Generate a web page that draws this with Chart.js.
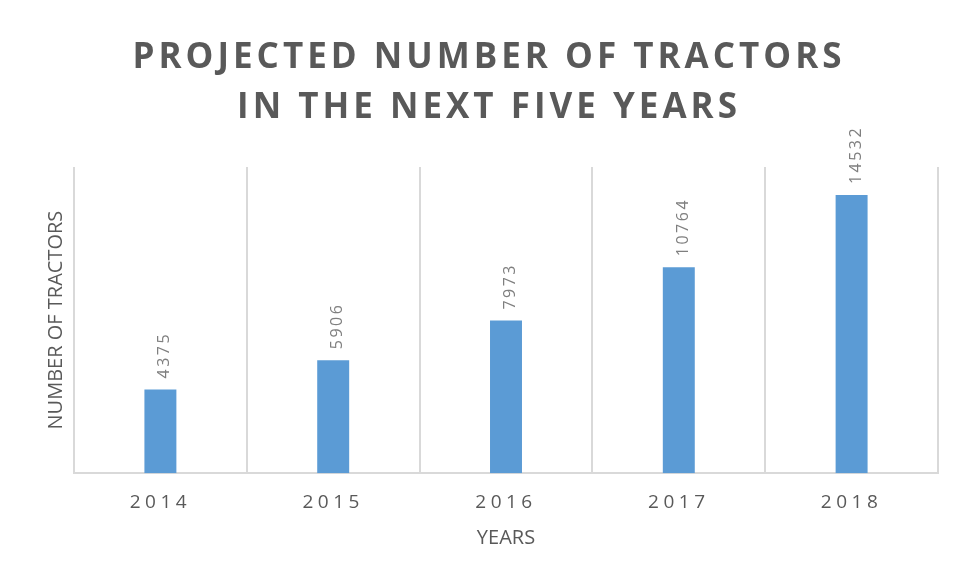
<!DOCTYPE html>
<html>
<head>
<meta charset="utf-8">
<script src="https://cdn.jsdelivr.net/npm/chart.js@4"></script>
<style>
  html, body { margin: 0; padding: 0; background: #fff; }
  #wrap { width: 955px; height: 577px; }
</style>
</head>
<body>
<div id="wrap"><canvas id="tractor-chart"></canvas></div>
<script>
const years = ['2014', '2015', '2016', '2017', '2018'];
const tractors = [4375, 5906, 7973, 10764, 14532];
const titleLines = ['PROJECTED NUMBER OF TRACTORS', 'IN THE NEXT FIVE YEARS'];
const yAxisTitle = 'NUMBER OF TRACTORS';
const xAxisTitle = 'YEARS';

const FONT = '"Open Sans", "Noto Sans", sans-serif';
const TEXT = '#595959';

// rotated value labels above each bar
const barLabels = {
  id: 'barLabels',
  afterDatasetsDraw(chart) {
    const ctx = chart.ctx;
    const meta = chart.getDatasetMeta(0);
    ctx.save();
    ctx.font = '16px ' + FONT;
    ctx.fillStyle = '#7f7f7f';
    ctx.letterSpacing = '2.5px';
    ctx.textAlign = 'left';
    ctx.textBaseline = 'alphabetic';
    meta.data.forEach((bar, i) => {
      ctx.save();
      ctx.translate(bar.x + 9, bar.y - 11);
      ctx.rotate(-Math.PI / 2);
      ctx.fillText(String(tractors[i]), 0, 0);
      ctx.restore();
    });
    ctx.restore();
  }
};

const chart = new Chart(document.getElementById('tractor-chart'), {
  type: 'bar',
  data: {
    labels: years,
    datasets: [{
      data: tractors,
      backgroundColor: '#5b9bd5',
      borderWidth: 0,
      categoryPercentage: 1,
      barPercentage: 0.185
    }]
  },
  options: {
    responsive: true,
    maintainAspectRatio: false,
    animation: false,
    layout: { padding: { left: 40, right: 17, top: 0, bottom: 29 } },
    plugins: {
      legend: { display: false },
      tooltip: { enabled: false },
      title: {
        display: true,
        text: titleLines,
        color: TEXT,
        font: { family: FONT, size: 35, weight: 'bold', lineHeight: 50 / 35 },
        padding: { top: 33, bottom: 34 }
      }
    },
    scales: {
      x: {
        grid: { display: true, offset: true, color: '#d9d9d9', lineWidth: 2, drawTicks: false },
        border: { display: true, color: '#d9d9d9', width: 2 },
        ticks: { color: TEXT, font: { family: FONT, size: 19 }, padding: 18 },
        title: {
          display: true,
          text: xAxisTitle,
          color: TEXT,
          font: { family: FONT, size: 20, lineHeight: 0.6 },
          padding: { top: 0, bottom: 4 }
        }
      },
      y: {
        min: 0,
        max: 16000,
        grid: { display: false, drawTicks: false },
        border: { display: false },
        ticks: { display: false },
        title: {
          display: true,
          text: yAxisTitle,
          color: TEXT,
          font: { family: FONT, size: 20 },
          padding: { top: 4, bottom: 6 }
        }
      }
    }
  },
  plugins: [barLabels]
});

// letter-spaced text for the chart title and the year labels
function spaced(obj, fn, spacing) {
  const orig = obj[fn];
  obj[fn] = function (...args) {
    const ctx = chart.ctx;
    ctx.save();
    ctx.letterSpacing = spacing;
    orig.apply(this, args);
    ctx.restore();
  };
}
spaced(chart.titleBlock, 'draw', '4px');
spaced(chart.scales.x, 'drawLabels', '4.5px');
chart.draw();
</script>
</body>
</html>
